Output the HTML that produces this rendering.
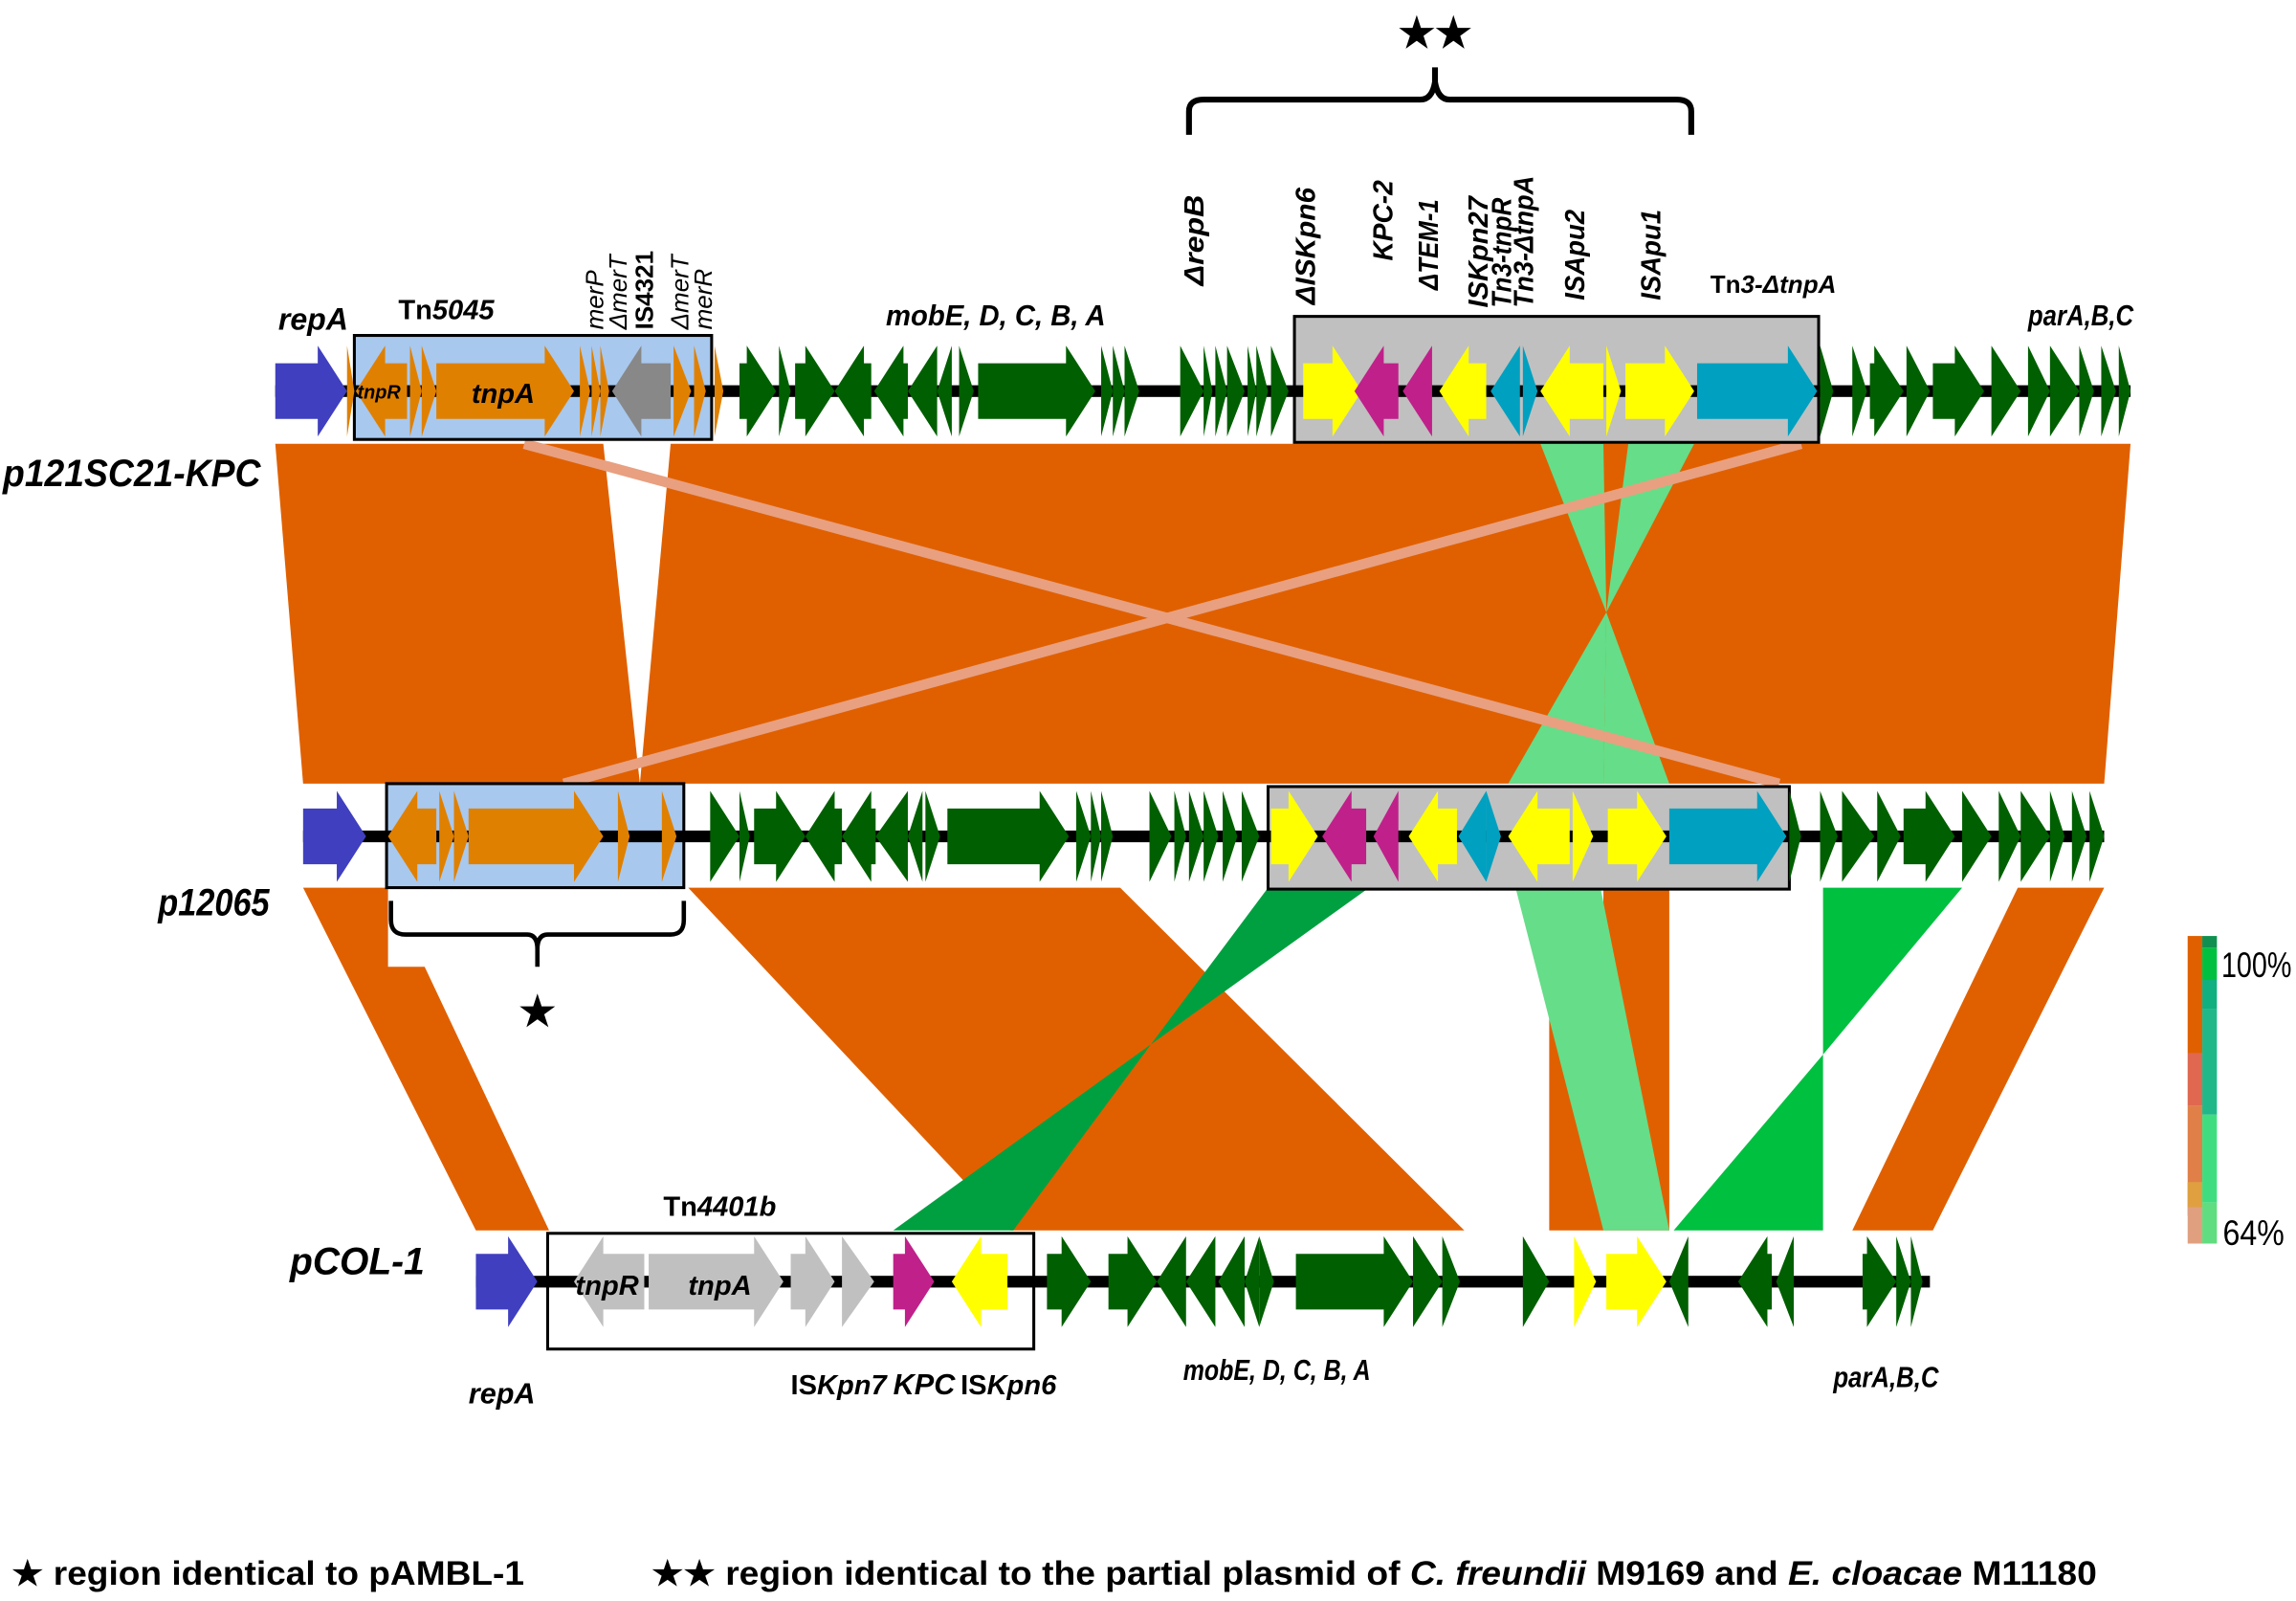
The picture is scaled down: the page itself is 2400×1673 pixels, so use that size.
<!DOCTYPE html>
<html><head><meta charset="utf-8"><style>
html,body{margin:0;padding:0;background:#fff;}
svg{display:block;}
text{font-family:"Liberation Sans",sans-serif;}
</style></head><body>
<svg id="s" width="2400" height="1673" viewBox="0 0 1568 1093" xmlns="http://www.w3.org/2000/svg">
<rect width="1568" height="1093" fill="#fff"/>
<polygon points="188,303 412,303 437,535 207,535" fill="#e06000"/>
<polygon points="458,303 1455,303 1437,535 437,535" fill="#e06000"/>
<polygon points="1052,303 1095,303 1097,418" fill="#66dd88"/>
<polygon points="1112,303 1157,303 1097,418" fill="#66dd88"/>
<polygon points="1097,418 1030,535 1095,535" fill="#66dd88"/>
<polygon points="1097,418 1095,535 1140,535" fill="#66dd88"/>
<line x1="358" y1="303" x2="1215" y2="535" stroke="#e8a080" stroke-width="7"/>
<line x1="1230" y1="303" x2="385" y2="535" stroke="#e8a080" stroke-width="7"/>
<polygon points="207,606 265,606 265,660 290,660 375,840 325,840" fill="#e06000"/>
<polygon points="470,606 765,606 1000,840 690,840" fill="#e06000"/>
<polygon points="866,606 935,606 786,713" fill="#00a040"/>
<polygon points="786,713 610,840 692,840" fill="#00a040"/>
<polygon points="1095,606 1140,606 1140,840 1058,840 1058,660 1095,660" fill="#e06000"/>
<polygon points="1035,606 1093,606 1140,840 1095,840" fill="#66dd88"/>
<polygon points="1245,606 1340,606 1245,720" fill="#00c040"/>
<polygon points="1245,720 1245,840 1143,840" fill="#00c040"/>
<polygon points="1378,606 1437,606 1320,840 1265,840" fill="#e06000"/>
<rect x="242" y="229" width="244" height="71" fill="#a8c8ee" stroke="#000" stroke-width="2"/>
<rect x="884" y="216" width="358" height="86" fill="#c0c0c0" stroke="#000" stroke-width="2"/>
<rect x="264" y="535" width="203" height="71" fill="#a8c8ee" stroke="#000" stroke-width="2"/>
<rect x="866" y="537" width="356" height="70" fill="#c0c0c0" stroke="#000" stroke-width="2"/>
<rect x="374" y="842" width="332" height="79" fill="#fff" stroke="#000" stroke-width="2"/>
<rect x="188" y="263" width="1267" height="8" fill="#000"/>
<rect x="207" y="567" width="1230" height="8" fill="#000"/>
<rect x="325" y="871" width="993" height="8" fill="#000"/>
<g id="genes"></g>
<path d="M812,92 V76 Q812,68 822,68 H970 Q978,68 980,56 V46 M980,56 Q982,68 990,68 H1145 Q1155,68 1155,76 V92" fill="none" stroke="#000" stroke-width="4"/>
<text x="980" y="32" font-size="28" text-anchor="middle" font-weight="bold">★★</text>
<path d="M267,615 V628 Q267,638 277,638 H360 Q367,638 367,648 V660 M367,648 Q367,638 374,638 H458 Q467,638 467,628 V615" fill="none" stroke="#000" stroke-width="3"/>
<text x="367" y="700" font-size="28" text-anchor="middle" font-weight="bold">★</text>
<g font-weight="bold" font-style="italic" fill="#000">
<text x="2" y="332" font-size="26" textLength="176" lengthAdjust="spacingAndGlyphs">p121SC21-KPC</text>
<text x="108" y="625" font-size="26" textLength="76" lengthAdjust="spacingAndGlyphs">p12065</text>
<text x="198" y="870" font-size="26" textLength="92" lengthAdjust="spacingAndGlyphs">pCOL-1</text>
<text x="190" y="225" font-size="21">repA</text>
<text x="605" y="222" font-size="20" textLength="150" lengthAdjust="spacingAndGlyphs">mobE, D, C, B, A</text>
<text x="1385" y="222" font-size="20" textLength="72" lengthAdjust="spacingAndGlyphs">parA,B,C</text>
<text x="320" y="958" font-size="20">repA</text>
<text x="808" y="942" font-size="20" textLength="128" lengthAdjust="spacingAndGlyphs">mobE, D, C, B, A</text>
<text x="1252" y="947" font-size="20" textLength="72" lengthAdjust="spacingAndGlyphs">parA,B,C</text>
<text x="610" y="952" font-size="20">KPC</text>
<text x="244" y="272" font-size="13">tnpR</text>
<text x="322" y="275" font-size="19">tnpA</text>
<text x="393" y="884" font-size="19">tnpR</text>
<text x="470" y="884" font-size="19">tnpA</text>
</g>
<g font-weight="bold" fill="#000" font-size="19">
<text x="272" y="218">Tn<tspan font-style="italic">5045</tspan></text>
<text x="453" y="830">Tn<tspan font-style="italic">4401b</tspan></text>
<text x="1168" y="200" font-size="17">Tn<tspan font-style="italic">3-ΔtnpA</tspan></text>
<text x="540" y="952">IS<tspan font-style="italic">Kpn7</tspan></text>
<text x="656" y="952">IS<tspan font-style="italic">Kpn6</tspan></text>
</g>
<g font-weight="bold" font-style="italic" font-size="19" fill="#000">
<text transform="translate(822,195) rotate(-90)" textLength="62" lengthAdjust="spacingAndGlyphs">ΔrepB</text>
<text transform="translate(898,208) rotate(-90)" textLength="80" lengthAdjust="spacingAndGlyphs">ΔISKpn6</text>
<text transform="translate(951,178) rotate(-90)" textLength="55" lengthAdjust="spacingAndGlyphs">KPC-2</text>
<text transform="translate(982,198) rotate(-90)" textLength="62" lengthAdjust="spacingAndGlyphs">ΔTEM-1</text>
<text transform="translate(1016,210) rotate(-90)" textLength="76" lengthAdjust="spacingAndGlyphs">ISKpn27</text>
<text transform="translate(1032,210) rotate(-90)" textLength="75" lengthAdjust="spacingAndGlyphs">Tn3-tnpR</text>
<text transform="translate(1047,210) rotate(-90)" textLength="90" lengthAdjust="spacingAndGlyphs">Tn3-ΔtnpA</text>
<text transform="translate(1082,205) rotate(-90)" textLength="62" lengthAdjust="spacingAndGlyphs">ISApu2</text>
<text transform="translate(1134,205) rotate(-90)" textLength="62" lengthAdjust="spacingAndGlyphs">ISApu1</text>
<text transform="translate(412,225) rotate(-90)" font-size="17" font-weight="normal">merP</text>
<text transform="translate(428,225) rotate(-90)" font-size="17" font-weight="normal">ΔmerT</text>
<text transform="translate(446,225) rotate(-90)" font-size="17" font-style="normal">IS4321</text>
<text transform="translate(470,225) rotate(-90)" font-size="17" font-weight="normal">ΔmerT</text>
<text transform="translate(486,225) rotate(-90)" font-size="17" font-weight="normal">merR</text>
</g>
<rect x="1494" y="639" width="10" height="80" fill="#e06000"/>
<rect x="1494" y="719" width="10" height="36" fill="#e06850"/>
<rect x="1494" y="755" width="10" height="75" fill="#e08048"/>
<rect x="1494" y="807" width="10" height="17" fill="#e0a040"/>
<rect x="1494" y="824" width="10" height="25" fill="#e0a080"/>
<rect x="1504" y="639" width="10" height="8" fill="#109050"/>
<rect x="1504" y="647" width="10" height="22" fill="#00c040"/>
<rect x="1504" y="669" width="10" height="20" fill="#10b080"/>
<rect x="1504" y="689" width="10" height="72" fill="#20b888"/>
<rect x="1504" y="761" width="10" height="60" fill="#40dd80"/>
<rect x="1504" y="821" width="10" height="28" fill="#60dd80"/>
<text x="1517" y="667" font-size="24" textLength="48" lengthAdjust="spacingAndGlyphs">100%</text>
<text x="1518" y="850" font-size="24" textLength="42" lengthAdjust="spacingAndGlyphs">64%</text>
<g font-weight="bold" font-size="23">
<text x="8" y="1082" textLength="350" lengthAdjust="spacingAndGlyphs">★ region identical to pAMBL-1</text>
<text x="445" y="1082" textLength="987" lengthAdjust="spacingAndGlyphs">★★ region identical to the partial plasmid of <tspan font-style="italic">C. freundii</tspan> M9169 and <tspan font-style="italic">E. cloacae</tspan> M11180</text>
</g>
</svg>
<script>
var B='#3f3fbf',O='#e08000',G='#005f00',Y='#ffff00',M='#c0208a',C='#00a0c0',Gr='#888',Lg='#c0c0c0';
function arr(x1,x2,d,c,cy){var w=x2-x1,h=Math.min(w,20),p;
 if(w<=22){p=d>0?[[x1,cy-31],[x2,cy],[x1,cy+31]]:[[x2,cy-31],[x1,cy],[x2,cy+31]];}
 else if(d>0){var hx=x2-h;p=[[x1,cy-19],[hx,cy-19],[hx,cy-31],[x2,cy],[hx,cy+31],[hx,cy+19],[x1,cy+19]];}
 else{var hx=x1+h;p=[[x2,cy-19],[hx,cy-19],[hx,cy-31],[x1,cy],[hx,cy+31],[hx,cy+19],[x2,cy+19]];}
 return '<polygon points="'+p.map(function(q){return q.join(',')}).join(' ')+'" fill="'+c+'"/>';}
var T=[
[267,[[188,237,1,B],[237,242,1,O],[243,278,-1,O],[280,288,1,O],[288,298,1,O],[298,392,1,O],[396,403,1,O],[404,410,1,O],[410,416,1,O],[418,458,-1,Gr],[460,472,1,O],[474,482,1,O],[488,494,1,O],
[505,530,1,G],[532,540,1,G],[543,570,1,G],[570,595,-1,G],[597,620,-1,G],[620,640,-1,G],[640,650,-1,G],[655,665,1,G],[668,748,1,G],[752,760,1,G],[760,768,1,G],[768,778,1,G],[806,822,1,G],[822,828,1,G],[830,838,1,G],[838,850,1,G],[852,858,1,G],[858,866,1,G],[868,880,1,G],
[890,930,1,Y],[925,955,-1,M],[958,978,-1,M],[983,1015,-1,Y],[1018,1038,-1,C],[1040,1050,1,C],[1052,1095,-1,Y],[1097,1107,1,Y],[1110,1157,1,Y],[1159,1241,1,C],[1243,1252,1,G],
[1265,1275,1,G],[1277,1300,1,G],[1302,1318,1,G],[1320,1355,1,G],[1360,1380,1,G],[1385,1400,1,G],[1400,1420,1,G],[1420,1430,1,G],[1435,1445,1,G],[1447,1455,1,G]]],
[571,[[207,250,1,B],[265,298,-1,O],[300,310,1,O],[310,320,1,O],[320,412,1,O],[422,430,1,O],[452,462,1,O],
[485,505,1,G],[505,512,1,G],[515,550,1,G],[550,575,-1,G],[575,598,-1,G],[598,620,-1,G],[620,630,-1,G],[632,642,1,G],[647,730,1,G],[735,745,1,G],[745,752,1,G],[752,760,1,G],[785,800,1,G],[802,810,1,G],[812,822,1,G],[822,832,1,G],[835,845,1,G],[848,860,1,G],
[868,900,1,Y],[903,933,-1,M],[938,955,-1,M],[962,995,-1,Y],[996,1015,-1,C],[1015,1025,1,C],[1030,1072,-1,Y],[1074,1088,1,Y],[1098,1138,1,Y],[1140,1220,1,C],[1222,1230,1,G],
[1243,1255,1,G],[1258,1280,1,G],[1282,1298,1,G],[1300,1335,1,G],[1340,1360,1,G],[1365,1380,1,G],[1380,1400,1,G],[1400,1410,1,G],[1415,1425,1,G],[1427,1437,1,G]]],
[875,[[325,367,1,B],[392,440,-1,Lg],[443,535,1,Lg],[540,570,1,Lg],[575,597,1,Lg],[610,638,1,M],[650,688,-1,Y],
[715,745,1,G],[757,790,1,G],[790,810,-1,G],[810,830,-1,G],[832,850,-1,G],[850,860,-1,G],[860,870,1,G],[885,965,1,G],[965,985,1,G],[985,997,1,G],[1040,1058,1,G],[1075,1090,1,Y],[1097,1138,1,Y],[1140,1153,-1,G],[1187,1210,-1,G],[1213,1225,-1,G],[1272,1295,1,G],[1295,1305,1,G],[1305,1313,1,G]]]];
var h='';T.forEach(function(t){t[1].forEach(function(g){h+=arr(g[0],g[1],g[2],g[3],t[0]);});});
document.getElementById('genes').innerHTML=h;
</script>
</body></html>
